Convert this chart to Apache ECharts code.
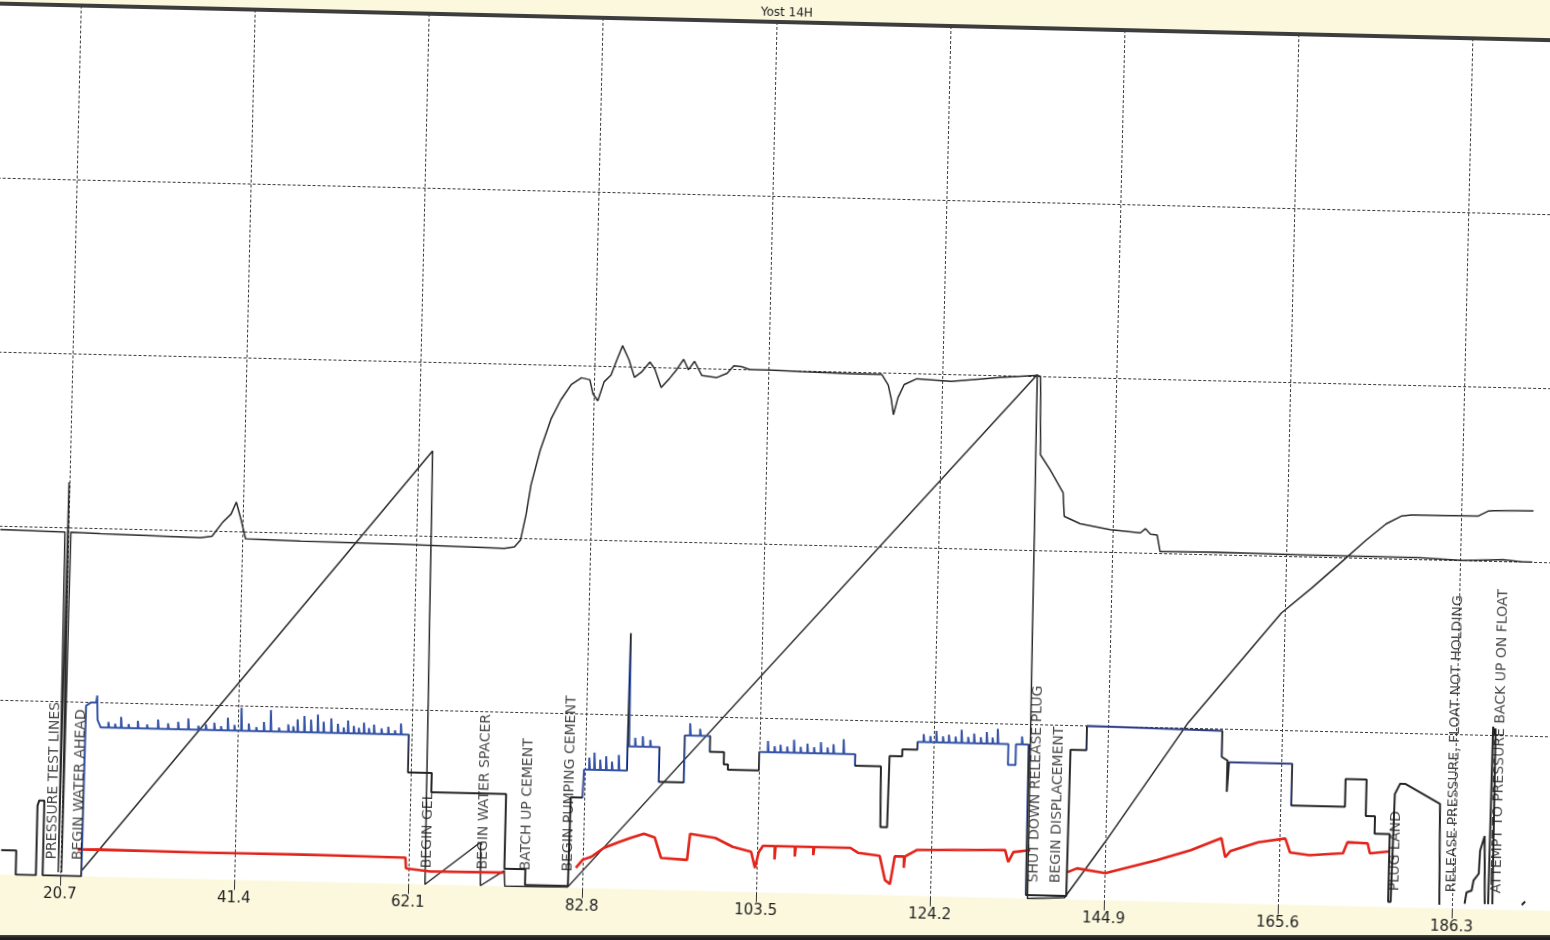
<!DOCTYPE html>
<html><head><meta charset="utf-8">
<script src="https://cdn.jsdelivr.net/npm/echarts@6/dist/echarts.min.js"></script>
<style>
html,body{margin:0;padding:0;background:#fbf8de;overflow:hidden;width:1550px;height:940px}
#wrap{position:absolute;left:-40px;top:0;width:1630px;height:940px;transform:rotate(1.35deg);transform-origin:815px 470px;}
#c{width:1630px;height:940px;}
#edge{position:absolute;left:0;top:935px;width:1550px;height:5px;background:linear-gradient(#4a4a4a,#222 50%,#1c1c1c);}
</style>
</head><body><div id="wrap"><div id="c"></div></div><div id="edge"></div>
<script>
// ---------------- data ----------------
const chartTitle = 'Yost 14H';
const xTickStep = 20.7;   // axis labels: 20.7, 41.4, ... 186.3
const xTickLabels = ['20.7','41.4','62.1','82.8','103.5','124.2','144.9','165.6','186.3'];

// black pressure trace
const pressure = [
[12.6,1.98],[20.3,1.975],[20.45,0.02],[20.65,2.26],[20.85,0.02],[21.0,1.975],[24.5,1.97],[36.4,1.96],[37.8,1.97],[39.0,2.05],[40.0,2.10],[40.6,2.17],[41.2,2.07],[41.8,1.96],[48.3,1.955],[60.2,1.95],[72.6,1.94],[73.8,1.95],
[74.5,1.99],[75.1,2.14],[75.6,2.31],[76.6,2.51],[77.8,2.69],[78.9,2.80],[80.1,2.89],[81.3,2.93],[82.3,2.92],[82.7,2.84],[83.3,2.80],[84.0,2.91],[84.8,2.95],[85.4,3.03],[86.1,3.12],[86.9,3.04],[87.6,2.94],[88.4,2.97],[89.4,3.03],[90.0,2.99],[90.8,2.885],[91.8,2.94],[92.6,2.99],[93.4,3.05],[94.0,2.99],[94.7,3.04],[95.6,2.96],[97.4,2.95],[98.6,2.975],[99.4,3.02],[100.3,3.015],[101.3,3.0],[103.9,3.0],[107.5,2.995],[113.4,2.99],[117.0,2.99],[117.8,2.93],[118.2,2.85],[118.5,2.76],[119.0,2.86],[119.7,2.935],[121.2,2.97],[125.3,2.96],[131.3,2.99],[135.5,3.005],[135.9,3.0],
[136.1,2.55],[137.3,2.465],[138.9,2.335],[139.1,2.20],[141.0,2.16],[144.6,2.13],[148.2,2.115],[148.8,2.14],[149.4,2.11],[150.2,2.105],[150.6,2.01],[157.4,2.015],[167.2,2.01],[181.5,2.01],[186.6,2.0],[191.4,2.01],[193.7,2.0],[194.9,2.0]
];

// black cumulative-volume sawtooth
const volume = [
[23.2,0.03],[63.8,2.49],[64.1,0.0],[70.6,0.25],[70.7,0.0],[70.9,0.0],[73.5,0.09],[73.6,0.0],[81.1,0.005],[135.5,3.01],[135.8,0.0],[140.2,0.01],[144.8,0.33],[154.4,1.03],[165.2,1.674],[168.7,1.82],[172.2,1.975],[175.1,2.105],[177.4,2.20],[179.2,2.247],[180.4,2.255],[188.3,2.257],[189.5,2.287],[190.2,2.29],[194.9,2.294]
];

// rate trace (blue where coloured in the original, black elsewhere)
const rate = [
[13.6,0.14],[15.4,0.14],[15.4,0.0],[17.8,0.0],[17.8,0.40],[18.0,0.43],[18.6,0.43],[18.6,0.0],[23.2,0.0],[23.3,0.98],[23.9,1.0],[24.5,1.0],[24.6,1.04],[24.7,0.90],[25.1,0.857],
[26.0,0.857],[26.0,0.89],[26.1,0.857],[26.8,0.857],[26.8,0.88],[26.9,0.857],[27.5,0.857],[27.5,0.92],[27.6,0.857],[28.4,0.857],[28.4,0.88],[28.5,0.857],[29.5,0.857],[29.5,0.90],[29.6,0.857],[30.6,0.857],[30.6,0.88],[30.7,0.857],[31.9,0.857],[31.9,0.91],[32.0,0.857],[33.1,0.857],[33.1,0.89],[33.2,0.857],[34.3,0.857],[34.3,0.90],[34.4,0.857],[35.5,0.857],[35.5,0.92],[35.6,0.857],[36.7,0.857],[36.7,0.88],[36.8,0.857],[37.6,0.857],[37.6,0.89],[37.7,0.857],[38.6,0.857],[38.6,0.90],[38.7,0.857],[39.4,0.857],[39.4,0.88],[39.5,0.857],[40.2,0.857],[40.2,0.93],[40.3,0.857],[41.0,0.857],[41.0,0.89],[41.1,0.857],[41.8,0.857],[41.8,0.99],[41.9,0.857],[42.7,0.857],[42.7,0.90],[42.8,0.857],[43.6,0.857],[43.6,0.88],[43.7,0.857],[44.5,0.857],[44.5,0.91],[44.6,0.857],[45.3,0.857],[45.3,0.98],[45.4,0.857],[46.3,0.857],[46.3,0.88],[46.4,0.857],[47.4,0.857],[47.4,0.90],[47.5,0.857],[48.0,0.857],[48.0,0.89],[48.1,0.857],[48.5,0.857],[48.5,0.93],[48.6,0.857],[49.3,0.857],[49.3,0.95],[49.4,0.857],[50.1,0.857],[50.1,0.93],[50.2,0.857],[50.9,0.857],[50.9,0.96],[51.0,0.857],[51.6,0.857],[51.6,0.92],[51.7,0.857],[52.5,0.857],[52.5,0.94],[52.6,0.857],[53.3,0.857],[53.3,0.91],[53.4,0.857],[54.0,0.857],[54.0,0.89],[54.1,0.857],[54.5,0.857],[54.5,0.93],[54.6,0.857],[55.2,0.857],[55.2,0.90],[55.3,0.857],[55.8,0.857],[55.8,0.89],[55.9,0.857],[56.4,0.857],[56.4,0.92],[56.5,0.857],[57.0,0.857],[57.0,0.89],[57.1,0.857],[57.6,0.857],[57.6,0.91],[57.7,0.857],[58.5,0.857],[58.5,0.89],[58.6,0.857],[59.3,0.857],[59.3,0.90],[59.4,0.857],[60.1,0.857],[60.1,0.88],[60.2,0.857],[60.8,0.857],[60.8,0.92],[60.9,0.857],
[61.75,0.857],[61.75,0.64],[64.6,0.64],[64.6,0.53],[73.5,0.53],[73.5,0.10],[76.0,0.10],[76.0,0.01],[81.1,0.01],[81.2,0.52],[82.6,0.52],[82.7,0.68],
[83.3,0.68],[83.3,0.75],[83.4,0.68],[83.9,0.68],[83.9,0.78],[84.0,0.68],[84.6,0.68],[84.6,0.74],[84.7,0.68],[85.3,0.68],[85.3,0.76],[85.4,0.68],[86.0,0.68],[86.0,0.73],[86.1,0.68],[86.8,0.68],[86.8,0.77],[86.9,0.68],[87.8,0.68],[87.8,0.82],[87.9,1.47],[88.0,0.82],
[88.7,0.82],[88.7,0.87],[88.8,0.82],[89.6,0.82],[89.6,0.88],[89.7,0.82],[90.5,0.82],[90.5,0.86],[90.6,0.82],[91.6,0.82],[91.6,0.62],[94.6,0.62],[94.6,0.89],[95.2,0.89],[95.2,0.96],[95.3,0.89],[96.4,0.89],[96.4,0.93],[96.5,0.89],[97.6,0.89],[97.6,0.80],[99.3,0.80],[99.3,0.73],[99.8,0.73],[99.8,0.70],[103.5,0.70],[103.5,0.805],
[104.5,0.805],[104.5,0.87],[104.6,0.805],[105.3,0.805],[105.3,0.84],[105.4,0.805],[106.0,0.805],[106.0,0.85],[106.1,0.805],[106.8,0.805],[106.8,0.84],[106.9,0.805],[107.6,0.805],[107.6,0.88],[107.7,0.805],[108.4,0.805],[108.4,0.84],[108.5,0.805],[109.2,0.805],[109.2,0.86],[109.3,0.805],[110.0,0.805],[110.0,0.84],[110.1,0.805],[110.8,0.805],[110.8,0.87],[110.9,0.805],[111.6,0.805],[111.6,0.84],[111.7,0.805],[112.3,0.805],[112.3,0.86],[112.4,0.805],[113.5,0.805],[113.5,0.89],[113.6,0.805],[114.9,0.805],[114.9,0.74],[118.0,0.74],[118.1,0.39],[118.9,0.39],[119.0,0.80],[120.5,0.80],[120.5,0.84],[122.3,0.84],[122.3,0.885],
[123.0,0.885],[123.0,0.93],[123.1,0.885],[123.8,0.885],[123.8,0.92],[123.9,0.885],[124.5,0.885],[124.5,0.95],[124.6,0.885],[125.3,0.885],[125.3,0.92],[125.4,0.885],[126.0,0.885],[126.0,0.93],[126.1,0.885],[126.8,0.885],[126.8,0.92],[126.9,0.885],[127.5,0.885],[127.5,0.96],[127.6,0.885],[128.3,0.885],[128.3,0.92],[128.4,0.885],[129.0,0.885],[129.0,0.94],[129.1,0.885],[129.8,0.885],[129.8,0.92],[129.9,0.885],[130.5,0.885],[130.5,0.95],[130.6,0.885],[131.2,0.885],[131.2,0.92],[131.3,0.885],[131.8,0.885],[131.8,0.97],[131.9,0.885],[133.1,0.885],[133.1,0.765],[134.0,0.765],[134.0,0.885],[134.7,0.885],[134.7,0.93],[134.8,0.885],[135.5,0.885],[135.6,0.02],
[140.4,0.02],[140.5,0.86],[142.4,0.86],[142.4,1.0],[150.0,0.995],[158.5,0.99],[158.5,0.84],[159.2,0.82],[159.2,0.64],[159.4,0.64],[159.4,0.81],[166.9,0.81],[166.9,0.57],[173.3,0.57],[173.3,0.73],[175.8,0.73],[175.8,0.52],[176.9,0.52],[176.9,0.42],[178.7,0.42],[178.7,0.03],[179.0,0.03],[179.2,0.65],[179.8,0.71],[180.4,0.71],[184.6,0.60],[184.8,0.02],[184.9,'-'],
[187.8,0.03],[188.0,0.095],[188.6,0.106],[188.8,0.164],[189.4,0.204],[189.5,0.336],[190.0,0.42],[190.1,0.43],[190.2,0.03],[190.4,'-'],
[190.6,0.03],[190.7,1.05],[190.9,1.0],[191.0,1.04],[191.1,0.03],[191.3,'-'],[194.6,0.03],[195.0,0.05]
];

// red density trace
const density = [
[22.7,0.154],[25.1,0.156],[37.4,0.152],[49.3,0.155],[61.7,0.151],[61.8,0.089],[64.7,0.075],[73.4,0.078],[73.5,'-'],
[82.0,0.116],[82.8,0.163],[83.8,0.181],[85.3,0.234],[87.1,0.27],[88.5,0.296],[90.0,0.32],[91.3,0.30],[92.1,0.184],[95.2,0.176],[95.5,0.326],[98.5,0.306],[100.6,0.257],[102.8,0.231],[103.3,0.139],[103.7,0.23],[104.2,0.267],
[105.6,0.267],[105.6,0.19],[105.7,0.267],[108.0,0.267],[108.0,0.21],[108.1,0.267],[110.2,0.267],[110.2,0.22],[110.3,0.267],[114.6,0.267],[115.5,0.24],[118.1,0.225],[118.8,0.087],[119.4,0.065],[119.9,0.225],[121.0,0.225],[121.0,0.16],[121.1,0.225],[122.5,0.264],[133.0,0.276],[133.4,0.207],[134.0,0.265],[136.0,0.279],[136.1,'-'],
[140.5,0.157],[141.6,0.18],[145.0,0.157],[151.1,0.238],[155.1,0.30],[158.7,0.373],[159.2,0.264],[159.8,0.30],[163.1,0.355],[166.3,0.38],[166.9,0.30],[169.2,0.287],[173.2,0.303],[173.7,0.367],[176.1,0.363],[176.4,0.306],[178.8,0.32]
];

// event annotations
const eventNames = ['PRESSURE TEST LINES','BEGIN WATER AHEAD','BEGIN GEL','BEGIN WATER SPACER','BATCH UP CEMENT','BEGIN PUMPING CEMENT','SHUT DOWN RELEASE PLUG','BEGIN DISPLACEMENT','PLUG LAND','RELEASE PRESSURE, FLOAT NOT HOLDING','ATTEMPT TO PRESSURE BACK UP ON FLOAT'];
const eventX = [19.7, 22.8, 64.4, 71.0, 76.1, 81.1, 136.5, 139.2, 179.5, 186.3, 191.6];
const eventY = 0.09;

// coloured spans of the rate trace
const blueSpans = [[23.2,61.75],[82.6,87.85],[87.95,91.6],[94.6,97.6],[103.5,114.9],[122.3,135.5]];
const navySpans = [[142.4,158.5],[159.4,166.9]];

// ---------------- chart ----------------
const FONT = 'DejaVu Sans';
const chart = echarts.init(document.getElementById('c'), null, {renderer:'canvas'});
const pieces = [];
blueSpans.forEach(s => pieces.push({gte:s[0], lt:s[1], color:'#3553a6'}));
navySpans.forEach(s => pieces.push({gte:s[0], lt:s[1], color:'#2e3c86'}));

const lineBase = {type:'line', showSymbol:false, symbol:'none', animation:false, smooth:false};

chart.setOption({
  animation:false,
  backgroundColor:'#fbf8de',
  title:{text:chartTitle, left:785, top:2, textStyle:{fontFamily:FONT, fontSize:12, fontWeight:'normal', color:'#222'}},
  grid:{left:-64, right:-46, top:22, bottom:47.5, show:true, backgroundColor:'#ffffff', borderWidth:0,
        containLabel:false, outerBoundsMode:'none'},
  xAxis:[{
    type:'value', min:0, max:207, interval:xTickStep,
    axisLine:{show:false},
    axisTick:{show:true, length:10, lineStyle:{color:'#333', width:1}},
    axisLabel:{margin:11, fontFamily:FONT, fontSize:15, color:'#1e1e1e', formatter:v=>v.toFixed(1)},
    splitLine:{show:true, lineStyle:{color:'#3a3a3a', width:1, type:[3,2]}}
  },{
    type:'value', min:0, max:207, position:'top',
    axisLine:{show:true, lineStyle:{color:'#3d3d3d', width:4}},
    axisTick:{show:false}, axisLabel:{show:false}, splitLine:{show:false}
  }],
  yAxis:{
    type:'value', min:0, max:5, interval:1,
    axisLine:{show:false}, axisTick:{show:false}, axisLabel:{show:false},
    splitLine:{show:true, lineStyle:{color:['rgba(0,0,0,0)','#3a3a3a','#3a3a3a','#3a3a3a','#3a3a3a','rgba(0,0,0,0)'], width:1, type:[3,2]}}
  },
  visualMap:{show:false, type:'piecewise', dimension:0, seriesIndex:3, pieces:pieces, outOfRange:{color:'#262626'}},
  series:[
    Object.assign({}, lineBase, {name:'Pressure', data:pressure, lineStyle:{color:'#2a2a2a', width:1.5}, z:3}),
    Object.assign({}, lineBase, {name:'Volume', data:volume, lineStyle:{color:'#2a2a2a', width:1.5}, z:3}),
    Object.assign({}, lineBase, {name:'Density', data:density, lineStyle:{color:'#e3241b', width:2.6}, z:4}),
    Object.assign({}, lineBase, {name:'Rate', data:rate, lineStyle:{width:2}, z:5}),
    {type:'scatter', name:'Events', symbolSize:1, itemStyle:{color:'rgba(0,0,0,0)'}, z:6, animation:false,
      data:eventNames.map((n,i)=>({name:n, value:[eventX[i], eventY]})),
      label:{show:true, formatter:'{b}', rotate:90, position:[0,0], align:'left', verticalAlign:'middle',
        fontFamily:FONT, fontSize:14, color:'#1a1a1a'}}
  ]
});
</script></body></html>
